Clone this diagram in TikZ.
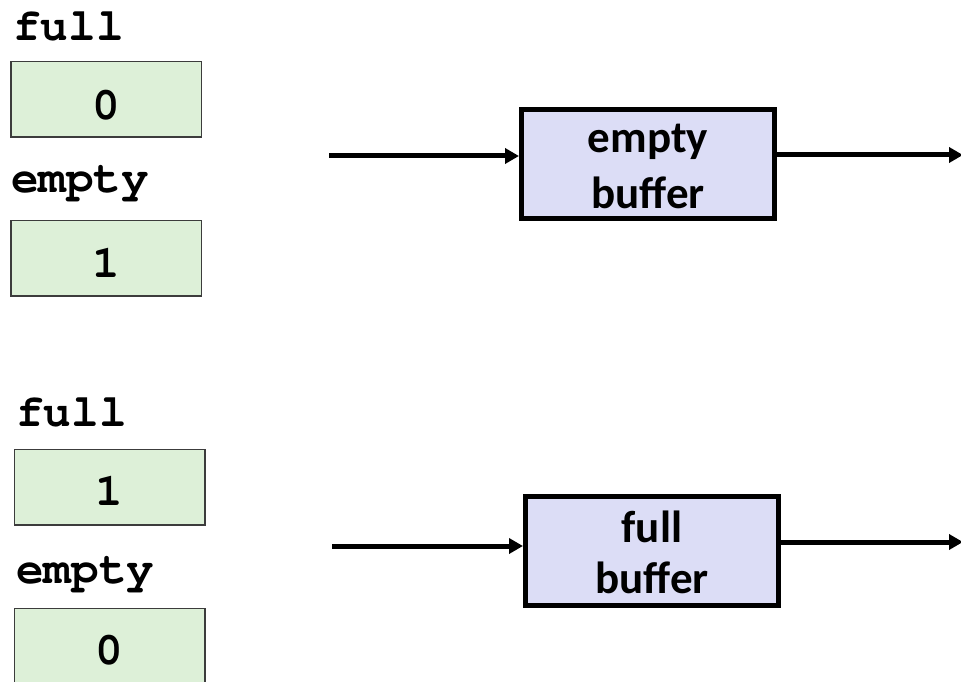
\documentclass[tikz,border=0pt]{standalone}
\usepackage[T1]{fontenc}
\usepackage{fontspec}
\usetikzlibrary{arrows.meta}
\newcommand\courbf{\fontencoding{T1}\fontfamily{pcr}\fontseries{b}\fontshape{n}\selectfont}
\newfontfamily\calfnt{Carlito}
\definecolor{semfill}{RGB}{221,240,216}
\definecolor{buffill}{RGB}{220,221,246}
\definecolor{semdraw}{RGB}{60,60,60}
\begin{document}
\begin{tikzpicture}[x=1pt,y=-1pt,
  sem/.style={draw=semdraw, line width=1.5pt, fill=semfill, minimum width=190.5pt, minimum height=75.5pt, inner sep=0pt},
  buf/.style={draw=black, line width=5pt, fill=buffill, minimum width=253pt, minimum height=109pt, inner sep=0pt},
  lbl/.style={font=\courbf\fontsize{46}{50}\selectfont, inner sep=0pt, anchor=base west},
  dig/.style={font=\courbf\fontsize{46}{50}\selectfont, inner sep=0pt, anchor=base},
  btxt/.style={font=\calfnt\bfseries\fontsize{45}{54}\selectfont, inner sep=0pt, anchor=base},
  arr/.style={line width=5pt, -{Triangle[length=14pt,width=15pt]}}]
\useasboundingbox (0,0) rectangle (961,682);
\clip (0,0) rectangle (961,682);
% top state
\node[lbl] (fullA) at (13,41) {full};
\node[sem] (semA1) at (106,99.5) {};
\node[dig] (digA1) at (106,120) {0};
\node[lbl] (emptyA) at (11,192) {empty};
\node[sem] (semA2) at (106,258) {};
\node[dig] (digA2) at (106,277) {1};
\node[buf] (bufA) at (648,164) {};
\node[btxt] (bufA1) at (648,153) {empty};
\node[btxt] (bufA2) at (648,208) {buffer};
\coordinate (inA) at (329,156);
\coordinate (outA) at (963,155);
\draw[arr] (inA) -- (inA -| bufA.west);
\draw[arr] (bufA.east |- outA) -- (outA);
% bottom state
\node[lbl] (fullB) at (16,426) {full};
\node[sem] (semB1) at (109.5,487) {};
\node[dig] (digB1) at (109.5,505) {1};
\node[lbl] (emptyB) at (16,583) {empty};
\node[sem] (semB2) at (109.5,646) {};
\node[dig] (digB2) at (109.5,664) {0};
\node[buf] (bufB) at (652,551) {};
\node[btxt] (bufB1) at (652,542) {full};
\node[btxt] (bufB2) at (652,593) {buffer};
\coordinate (inB) at (332,546);
\coordinate (outB) at (963,542);
\draw[arr] (inB) -- (inB -| bufB.west);
\draw[arr] (bufB.east |- outB) -- (outB);
\end{tikzpicture}
\end{document}
